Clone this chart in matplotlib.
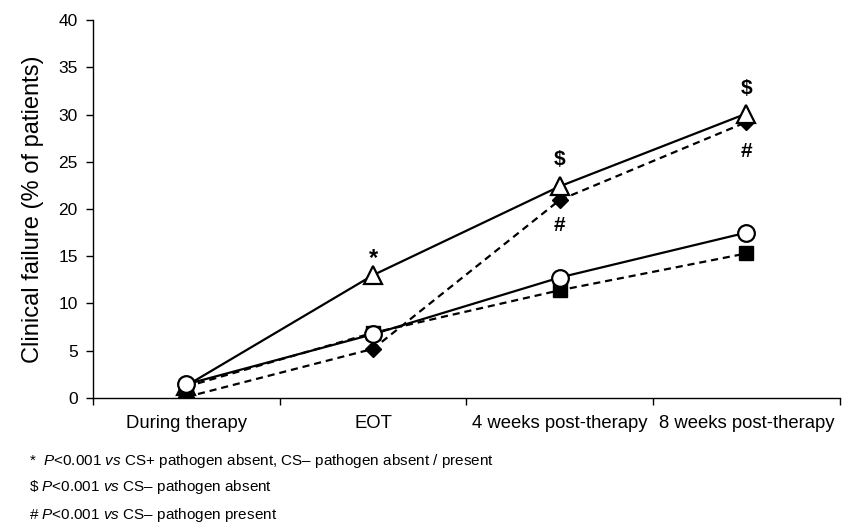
import matplotlib
matplotlib.use("Agg")
import matplotlib.pyplot as plt
import numpy as np

plt.rcParams['font.family'] = ['Liberation Sans', 'DejaVu Sans']
plt.rcParams['mathtext.fontset'] = 'custom'
plt.rcParams['mathtext.rm'] = 'Liberation Sans'
plt.rcParams['mathtext.it'] = 'Liberation Sans:italic'

# ---- data ----
categories = ["During therapy", "EOT", "4 weeks post-therapy", "8 weeks post-therapy"]
tri_open = [1.3, 13.0, 22.4, 30.1]      # open triangle, solid
circ_open = [1.45, 6.75, 12.75, 17.5]   # open circle, solid
diam_fill = [0.1, 5.2, 20.95, 29.2]     # filled diamond, dashed
sq_fill = [1.2, 6.9, 11.4, 15.3]        # filled square, dashed
yticks = [0, 5, 10, 15, 20, 25, 30, 35, 40]
footnotes = [
    r"*  $P$<0.001 $vs$ CS+ pathogen absent, CS– pathogen absent / present",
    r"\$ $P$<0.001 $vs$ CS– pathogen absent",
    r"# $P$<0.001 $vs$ CS– pathogen present",
]

fig = plt.figure(figsize=(8.5, 5.24), dpi=100)
ax = fig.add_axes([0.1094, 0.2405, 0.8786, 0.7213])
x = np.arange(len(categories))

dash = (0, (3.2, 2.2))
ax.plot(x, diam_fill, linestyle=dash, color='black', lw=1.6, marker='D', ms=8.5,
        mfc='black', mec='black', zorder=2)
ax.plot(x, tri_open, linestyle='-', color='black', lw=1.6, marker='^', ms=12.5,
        mfc='white', mec='black', mew=1.6, zorder=3)
ax.plot(x, sq_fill, linestyle=dash, color='black', lw=1.6, marker='s', ms=10.5,
        mfc='black', mec='black', zorder=4)
ax.plot(x, circ_open, linestyle='-', color='black', lw=1.6, marker='o', ms=12,
        mfc='white', mec='black', mew=1.6, zorder=5)

ax.set_xlim(-0.5, 3.5)
ax.set_ylim(0, 40)
ax.set_yticks(yticks)
ax.set_xticks(x)
ax.set_xticklabels(categories, fontsize=13.3)
ax.set_xticks(np.arange(-0.5, 3.6, 1.0), minor=True)
ax.tick_params(axis='x', which='major', length=0, pad=12)
ax.tick_params(axis='x', which='minor', length=5, width=1, direction='out')
ax.tick_params(axis='y', length=5, width=1, direction='out', labelsize=12.5, pad=6)
for s in ['top', 'right']:
    ax.spines[s].set_visible(False)
for s in ['left', 'bottom']:
    ax.spines[s].set_linewidth(1)
ax.set_ylabel("Clinical failure (% of patients)", fontsize=17, labelpad=10)

# significance marks
ax.annotate("*", (x[1], tri_open[1]), xytext=(0, 7.5), textcoords='offset points',
            ha='center', va='baseline', fontsize=17, fontweight='bold')
for i, off in [(2, 15), (3, 14)]:
    ax.annotate("$", (x[i], tri_open[i]), xytext=(0, off), textcoords='offset points',
                ha='center', va='baseline', fontsize=15, fontweight='bold')
for i, off in [(2, -22), (3, -25)]:
    ax.annotate("#", (x[i], diam_fill[i]), xytext=(0, off), textcoords='offset points',
                ha='center', va='baseline', fontsize=15, fontweight='bold')

for k, t in enumerate(footnotes):
    fig.text(29 / 850, 1 - (464.5 + 27 * k) / 524, t, fontsize=11, ha='left', va='baseline')

fig.savefig("out.png", dpi=100)
